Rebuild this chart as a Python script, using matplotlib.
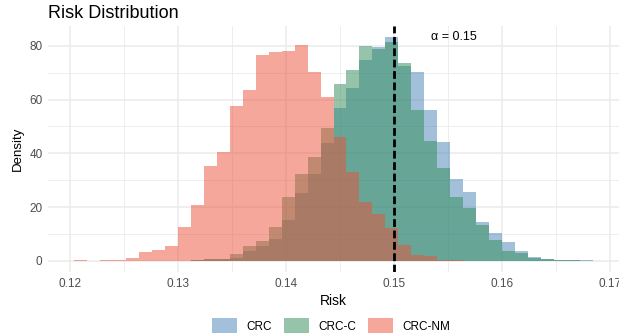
import matplotlib
matplotlib.use("Agg")
import matplotlib.pyplot as plt
import numpy as np
from matplotlib.patches import Patch

plt.rcParams['font.family'] = ['Liberation Sans', 'DejaVu Sans']

# shared histogram bins
bin_start = 0.1204
bin_width = 0.0012
n_bins = 40

# density per bin, one list per method
crc = [0, 0, 0, 0, 0, 0, 0, 0, 0, 0.3, 0.5, 0.5, 1.0, 3.8, 5.3, 8.2, 15.0, 25.2,
       32.3, 44.0, 56.8, 64.2, 74.7, 79.7, 83.3, 72.5, 70.3, 56.1, 44.3, 30.5,
       25.6, 14.6, 10.3, 7.0, 3.7, 1.4, 0.6, 0.3, 0.25, 0.15]
crc_c = [0, 0, 0, 0, 0, 0, 0, 0, 0, 0.4, 0.7, 0.6, 2.5, 5.3, 7.5, 12.6, 23.8, 32.3,
         38.5, 49.3, 65.7, 71.0, 80.0, 78.8, 81.6, 73.5, 56.1, 44.6, 34.5, 23.7,
         19.5, 13.2, 7.8, 3.8, 2.9, 1.0, 0.5, 0.2, 0.15, 0]
crc_nm = [0.2, 0, 0.2, 0.4, 1.0, 3.3, 4.0, 5.6, 12.5, 20.7, 35.3, 40.4, 57.6, 63.4,
          76.8, 77.6, 78.1, 80.5, 70.4, 61.1, 46.2, 33.2, 21.8, 17.5, 12.3, 5.9,
          2.2, 1.6, 0.4, 0.3, 0, 0, 0, 0, 0, 0, 0, 0, 0, 0]

labels = ["CRC", "CRC-C", "CRC-NM"]
colors = ["#4682b4", "#2e8b57", "#eb5037"]
alpha_level = 0.15

edges = bin_start + bin_width * np.arange(n_bins + 1)

fig = plt.figure(figsize=(6.19, 3.33), dpi=100)
ax = fig.add_axes([48 / 619, 1 - 272 / 333, 1 - 48 / 619, (272 - 25.5) / 333])

for vals, col in zip([crc, crc_c, crc_nm], colors):
    ax.bar(edges[:-1], vals, width=bin_width, align='edge', color=col,
           alpha=0.5, linewidth=0)

ax.axvline(alpha_level, color='black', linewidth=2, linestyle=(0, (2.8, 1.3)))
ax.text(0.1555, 83.3, "α = 0.15", ha='center', va='center', fontsize=9)

ax.set_xlim(0.1180, 0.1708)
ax.set_ylim(-4.2, 87.6)
ax.set_xticks([0.12, 0.13, 0.14, 0.15, 0.16, 0.17])
ax.set_xticklabels(["0.12", "0.13", "0.14", "0.15", "0.16", "0.17"])
ax.set_xticks([0.125, 0.135, 0.145, 0.155, 0.165], minor=True)
ax.set_yticks([0, 20, 40, 60, 80])
ax.set_yticks([10, 30, 50, 70], minor=True)
ax.grid(which='major', color='#ebebeb', linewidth=1.1)
ax.grid(which='minor', color='#ebebeb', linewidth=0.6)
ax.set_axisbelow(True)
for s in ax.spines.values():
    s.set_visible(False)
ax.tick_params(which='both', length=0, labelsize=8.5, labelcolor='#4d4d4d', pad=4)

ax.set_xlabel("Risk", fontsize=10, labelpad=3)
ax.set_ylabel("Density", fontsize=9.5, labelpad=4)

fig.text(48 / 619, 1 - 18 / 333, "Risk Distribution", fontsize=13,
         ha='left', va='baseline')

handles = [Patch(facecolor=c, alpha=0.5, linewidth=0) for c in colors]
fig.legend(handles, labels, loc='center', bbox_to_anchor=(0.535, 1 - 326 / 333),
           ncol=3, frameon=False, fontsize=8.5, handlelength=2.1, handleheight=1.6,
           handletextpad=0.8, columnspacing=1.0, borderpad=0)

fig.savefig("out.png", dpi=100)
